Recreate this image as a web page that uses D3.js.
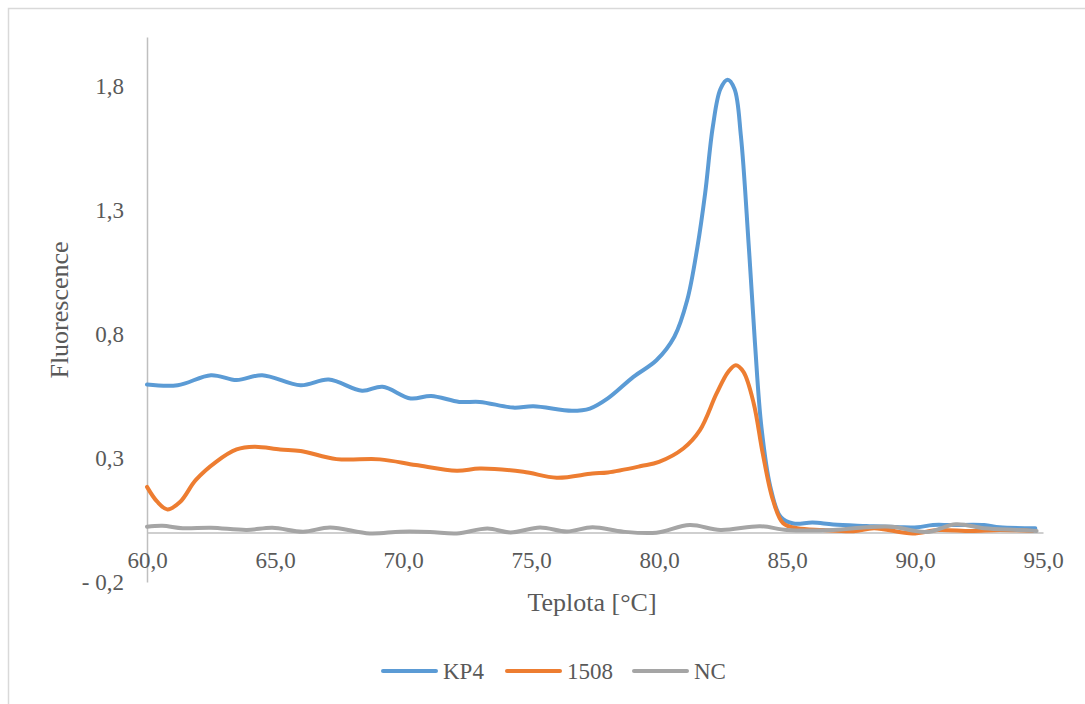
<!DOCTYPE html>
<html>
<head>
<meta charset="utf-8">
<script src="https://cdn.jsdelivr.net/npm/d3@7"></script>
<style>
  body { margin: 0; background: #fff; }
  text { font-family: "Liberation Serif", "Times New Roman", serif; fill: #595959; }
</style>
</head>
<body>
<div id="chart"></div>
<script>
// melt curve readings [temperature °C, fluorescence]
const kp4 = [
  [60.0, 0.597], [61.2, 0.594], [62.5, 0.635], [63.5, 0.615], [64.5, 0.635],
  [66.0, 0.594], [67.1, 0.617], [68.4, 0.572], [69.2, 0.588], [70.3, 0.541],
  [71.1, 0.551], [72.2, 0.527], [73.0, 0.527], [74.3, 0.504], [75.1, 0.509],
  [76.6, 0.491], [77.3, 0.500], [78.0, 0.541], [79.0, 0.628], [79.9, 0.695],
  [80.6, 0.790], [81.1, 0.937], [81.5, 1.152], [81.8, 1.367], [82.1, 1.636],
  [82.4, 1.790], [82.68, 1.827], [82.95, 1.790], [83.2, 1.600], [83.5, 1.166],
  [83.75, 0.762], [84.0, 0.426], [84.35, 0.184], [84.75, 0.063], [85.25, 0.036],
  [86.0, 0.040], [86.8, 0.032], [88.1, 0.026], [89.4, 0.021], [90.1, 0.021],
  [90.7, 0.030], [91.4, 0.030], [92.7, 0.030], [93.3, 0.021], [94.7, 0.017]
];
const s1508 = [
  [60.0, 0.184], [60.4, 0.124], [60.8, 0.093], [61.3, 0.124], [61.9, 0.211],
  [62.7, 0.285], [63.5, 0.335], [64.2, 0.346], [65.2, 0.335], [66.0, 0.329],
  [67.4, 0.296], [69.1, 0.295], [70.5, 0.272], [72.1, 0.249], [73.0, 0.258],
  [74.7, 0.245], [76.0, 0.221], [77.4, 0.238], [78.0, 0.242], [79.3, 0.268],
  [80.0, 0.285], [80.95, 0.339], [81.6, 0.413], [82.25, 0.561], [82.7, 0.648],
  [83.0, 0.675], [83.3, 0.648], [83.7, 0.521], [84.05, 0.320], [84.45, 0.131],
  [84.85, 0.037], [85.4, 0.017], [86.4, 0.010], [87.6, 0.005], [88.4, 0.017],
  [89.9, -0.004], [90.9, 0.010], [92.2, 0.006], [93.3, 0.010], [94.6, 0.006]
];
const nc = [
  [60.0, 0.023], [60.6, 0.027], [61.4, 0.017], [62.5, 0.019], [63.9, 0.010],
  [64.9, 0.019], [66.1, 0.003], [67.15, 0.020], [68.7, -0.004], [69.9, 0.003],
  [71.05, 0.002], [72.1, -0.004], [73.3, 0.016], [74.2, 0.000], [75.35, 0.020],
  [76.4, 0.004], [77.4, 0.021], [78.6, 0.003], [79.9, -0.001], [81.2, 0.030],
  [82.4, 0.010], [83.95, 0.025], [85.0, 0.010], [86.8, 0.010], [88.1, 0.021],
  [89.1, 0.023], [90.45, 0.002], [91.6, 0.033], [92.7, 0.017], [94.0, 0.010],
  [94.75, 0.006]
];

const seriesNames = ["KP4", "1508", "NC"];
const seriesColors = ["#5B9BD5", "#ED7D31", "#A5A5A5"];
const seriesData = [kp4, s1508, nc];

const xTicks = [60, 65, 70, 75, 80, 85, 90, 95];
const yTicks = [-0.2, 0.3, 0.8, 1.3, 1.8];

const width = 1085, height = 704;

const svg = d3.select("#chart").append("svg")
  .attr("width", width)
  .attr("height", height);

// chart area frame
svg.append("rect")
  .attr("x", 8.5).attr("y", 8.5)
  .attr("width", 1100).attr("height", 720)
  .attr("fill", "none")
  .attr("stroke", "#d9d9d9")
  .attr("stroke-width", 1.5);

const x = d3.scaleLinear().domain([60, 95]).range([147, 1043]);
const y = d3.scaleLinear().domain([-0.2, 2.0]).range([582, 37]);

const fmt = v => {
  const s = d3.format(".1f")(Math.abs(v)).replace(".", ",");
  return v < 0 ? "- " + s : s;
};

// y axis
const yAxisG = svg.append("g")
  .attr("transform", `translate(${x(60)},0)`)
  .call(d3.axisLeft(y).tickValues(yTicks).tickSize(0).tickPadding(23).tickFormat(fmt));

// x axis crossing at 0
const xAxisG = svg.append("g")
  .attr("transform", `translate(0,${y(0)})`)
  .call(d3.axisBottom(x).tickValues(xTicks).tickSize(0).tickPadding(19).tickFormat(fmt));

[yAxisG, xAxisG].forEach(g => {
  g.select(".domain").attr("stroke", "#bfbfbf").attr("stroke-width", 1.5);
  g.selectAll("text")
    .style("font-family", '"Liberation Serif", serif')
    .style("font-size", "23px")
    .attr("fill", "#595959");
});

// smoothed lines
const line = d3.line()
  .x(d => x(d[0]))
  .y(d => y(d[1]))
  .curve(d3.curveCatmullRom.alpha(0.5));

svg.append("g")
  .selectAll("path")
  .data(seriesData)
  .join("path")
  .attr("d", line)
  .attr("fill", "none")
  .attr("stroke", (d, i) => seriesColors[i])
  .attr("stroke-width", 4)
  .attr("stroke-linejoin", "round")
  .attr("stroke-linecap", "round");

// axis titles
svg.append("text")
  .attr("x", 592)
  .attr("y", 611)
  .attr("text-anchor", "middle")
  .style("font-size", "26px")
  .text("Teplota [°C]");

svg.append("text")
  .attr("transform", "translate(68,310) rotate(-90)")
  .attr("text-anchor", "middle")
  .style("font-size", "26px")
  .text("Fluorescence");

// legend
const legendX = [383, 507, 634];
const legend = svg.append("g")
  .selectAll("g")
  .data(seriesNames)
  .join("g")
  .attr("transform", (d, i) => `translate(${legendX[i]},671)`);

legend.append("line")
  .attr("x1", 0).attr("x2", 53)
  .attr("stroke", (d, i) => seriesColors[i])
  .attr("stroke-width", 4)
  .attr("stroke-linecap", "round");

legend.append("text")
  .attr("x", 60)
  .attr("y", 8)
  .style("font-size", "23px")
  .text(d => d);
</script>
</body>
</html>
